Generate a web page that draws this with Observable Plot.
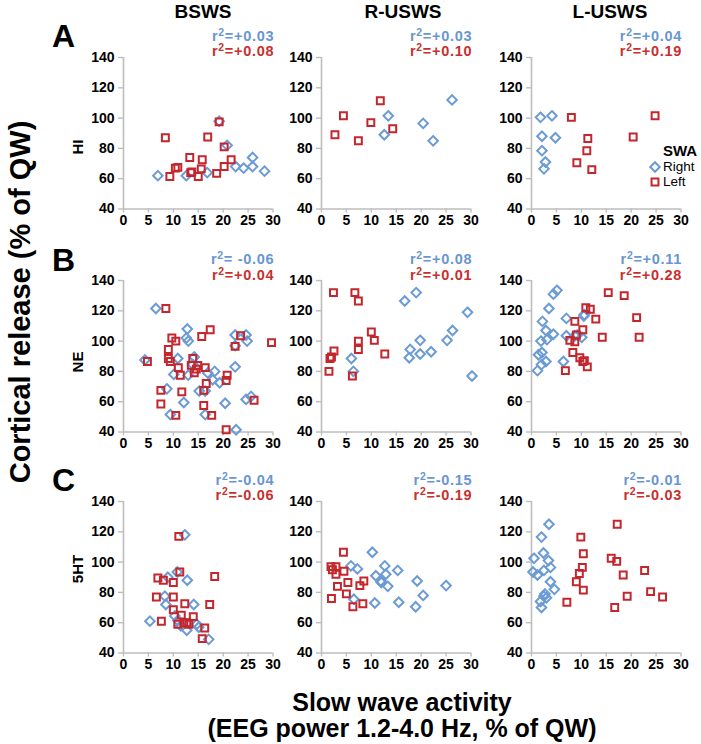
<!DOCTYPE html>
<html>
<head>
<meta charset="utf-8">
<script src="https://cdn.jsdelivr.net/npm/d3@7"></script>
<script src="https://cdn.jsdelivr.net/npm/@observablehq/plot@0.6"></script>
<style>
  body { margin: 0; background: #fff; }
  #fig { position: relative; width: 701px; height: 744px; overflow: hidden; background: #fff;
         font-family: "Liberation Sans", Arial, sans-serif; color: #000; }
  .lbl { position: absolute; white-space: nowrap; line-height: 1; font-weight: bold; }
  .lbl sup { font-size: 0.72em; vertical-align: 0.42em; line-height: 0; }
  .panel { position: absolute; }
</style>
</head>
<body>
<div id="fig"></div>
<script>
// ---------- data ----------
const panelLetters = ["A", "B", "C"];
const transmitters = ["HI", "NE", "5HT"];
const states = ["BSWS", "R-USWS", "L-USWS"];
const xTicks = [0, 5, 10, 15, 20, 25, 30];
const yTicks = [40, 60, 80, 100, 120, 140];
const legendTitle = "SWA";
const legendLabels = ["Right", "Left"];
const xTitle = ["Slow wave activity", "(EEG power 1.2-4.0 Hz, % of QW)"];
const yTitle = "Cortical release (% of QW)";

const r2Right = [["+0.03", "+0.03", "+0.04"], [" -0.06", "+0.08", "+0.11"], ["-0.04", "-0.15", "-0.01"]];
const r2Left  = [["+0.08", "+0.10", "+0.19"], ["+0.04", "+0.01", "+0.28"], ["-0.06", "-0.19", "-0.03"]];

// HI
const hiBswsRight = [[6.9,62],[12.6,62],[16.8,64],[19.2,98],[20.8,82],[22.5,68],[24.1,67],[25.9,68],[25.9,74],[28.3,65]];
const hiBswsLeft = [[8.4,87],[9.3,61.5],[10.4,67],[10.9,67.5],[13.3,74],[13.5,64],[13.7,64.5],[15,61.5],[15.8,72.5],[15.6,66.5],[16.9,87.5],[18.7,63.5],[19.2,97.5],[20.2,81],[20.2,68],[21.6,72.5]];
const hiRuswsRight = [[12.6,89],[13.4,101.5],[20.4,96.5],[22.4,85],[26.2,112]];
const hiRuswsLeft = [[2.7,89],[4.4,101.5],[7.4,85],[9.9,97],[11.8,111.5],[14.3,93]];
const hiLuswsRight = [[1.8,100.5],[4.1,101.5],[2.1,88],[4.8,87],[2.1,78.5],[2.8,71],[2.5,66.5]];
const hiLuswsLeft = [[8,100.5],[11.3,86.5],[11.1,78.5],[9.1,70.5],[12.1,66],[20.4,87.5],[24.8,101.5]];
// NE
const neBswsRight = [[6.5,121.5],[4.3,87.5],[8.7,68.5],[9.4,51.5],[10.1,78],[10.9,88.5],[12.1,59.5],[12.8,108],[12.6,102],[13,100],[13,77.5],[13.9,84.5],[14.2,89.5],[15.2,67],[16.4,51.5],[16.4,67],[16.9,79],[18.3,80],[17.9,74.5],[19.3,72.5],[20.4,59],[22.4,83],[22.4,104],[22.6,41.5],[22.4,97],[24.6,104],[24.8,100],[24.6,61.5],[25.6,63.5]];
const neBswsLeft = [[8.5,121.5],[4.8,86.5],[7.5,67.5],[7.5,58.5],[9,94.5],[9,88.5],[9.4,86.5],[9.7,102],[10.5,100],[10.5,51],[11,82.5],[11.4,77.5],[11.7,66.5],[13.6,84],[13.9,88.5],[14.2,79],[14.6,81.5],[14.9,84],[15.7,103],[16.1,67.5],[16.1,57.5],[16.4,82.5],[16.6,72],[17.4,107.5],[17.7,51],[20.8,77.5],[20.6,74],[20.6,41.5],[22.4,96.5],[23.5,103.5],[26.2,61],[29.7,99]];
const neRuswsRight = [[6,88.5],[6.4,80],[16.7,126.5],[19,132],[17.8,94.5],[17.6,89],[19.8,100.5],[19.8,91.5],[22,93],[25.2,100.5],[26.3,107],[29.3,119],[30.2,77]];
const neRuswsLeft = [[2.4,132],[1.5,80],[1.7,88.5],[2,89.5],[2.5,93.5],[6.7,132],[7.4,126.5],[7.4,100],[7.4,94.5],[6.2,77],[10,106],[10.6,100.5],[12.7,91.5]];
const neLuswsRight = [[1.2,80.5],[2,84.5],[1.4,91],[2.1,92.5],[2.9,86.5],[1.9,100],[2.2,113],[3.1,101],[2.9,107],[3.5,121.5],[4.4,104.5],[4.4,131],[5.1,133.5],[6.4,86.5],[7,115],[7,103.5],[8.7,103.5],[9.2,104],[10.1,102.5],[10.5,116.5],[10.6,117.5]];
const neLuswsLeft = [[6.8,80.5],[7.7,100.5],[8.7,113],[8.3,92.5],[8.7,99.5],[9,104],[9.7,89],[10.3,107.5],[10.3,86.5],[10.6,87],[10.9,122],[11.2,83],[11.8,121],[12.9,114.5],[14.2,102.5],[15.4,132],[18.6,130],[21.1,115.5],[21.6,102.5]];
// 5HT
const htBswsRight = [[5.3,61],[8.3,77.5],[8.5,72],[8.9,90],[10.8,93.5],[12.3,118],[12.8,88],[10.3,64.5],[10.9,61.5],[11.5,58],[12.7,55],[14.1,72],[14.7,59],[15.1,57],[17.1,49]];
const htBswsLeft = [[6.9,89.5],[6.6,77],[7.6,61],[8,88],[10,86.5],[10,77],[10,68.5],[10.9,59],[11.1,117],[11.3,93.5],[11.6,65],[12.1,60],[12.3,72.5],[12.7,60],[13.1,59],[14,64],[16.3,56.5],[15.8,49.5],[17.3,72],[18.3,90.5]];
const htRuswsRight = [[5.9,97.5],[7.2,95.5],[6.5,75.5],[10.2,106.5],[10.9,91],[11.9,87.5],[12,86.5],[12.7,97.5],[12.9,92],[13.3,84],[15.3,94.5],[15.5,73.5],[10.7,73],[19.2,87.5],[20.4,78],[18.9,70.5],[25,84.5]];
const htRuswsLeft = [[1.9,97],[2.2,95],[2.9,97],[2.9,92],[3.2,84],[2,76],[4.4,106.5],[4.5,94],[5,79],[5.3,86.5],[6.3,70.5],[7.7,84.5],[8.5,87.5],[8.3,72.5]];
const htLuswsRight = [[0.5,102.5],[0.3,93.5],[1.2,91.5],[2,116.5],[2.4,106],[2.5,94.5],[3.4,101],[3.5,125],[3.8,96.5],[3.8,87],[4.6,82],[1.8,74],[2,70],[2.5,77.5],[2.7,79],[3,76.5]];
const htLuswsLeft = [[7.1,73.5],[9,87],[9.6,92.5],[9.9,116.5],[10.4,105.5],[10.2,96.5],[10.4,81.5],[16,102.5],[17.2,125],[17.1,100.5],[18.4,91.5],[16.7,70],[19.2,77.5],[22.7,94.5],[23.9,80.5],[26.3,77]];

const rightSeries = [[hiBswsRight, hiRuswsRight, hiLuswsRight], [neBswsRight, neRuswsRight, neLuswsRight], [htBswsRight, htRuswsRight, htLuswsRight]];
const leftSeries  = [[hiBswsLeft, hiRuswsLeft, hiLuswsLeft], [neBswsLeft, neRuswsLeft, neLuswsLeft], [htBswsLeft, htRuswsLeft, htLuswsLeft]];

// ---------- style / layout ----------
const FONT = "'Liberation Sans', Arial, sans-serif";
const BLUE = "#6b9bd5", RED = "#c3262d";
const BLUE_T = "#6996d0", RED_T = "#c8302f";
const GRAY = "#bdbdbd";
const colX = [122.7, 320.7, 530.5];
const rowTop = [56.5, 280, 500.7];
const PW = 149.5, PH = 151.5;
const ML = 45, MR = 25, MT = 32, MB = 28;

const fig = document.getElementById("fig");

function addLabel(html, cx, cy, size, extra = {}) {
  const d = document.createElement("div");
  d.className = "lbl";
  d.innerHTML = html;
  d.style.fontSize = size + "px";
  d.style.left = cx + "px";
  d.style.top = cy + "px";
  d.style.transform = (extra.anchor === "end" ? "translate(-100%,-50%)" :
                       extra.anchor === "start" ? "translate(0,-50%)" : "translate(-50%,-50%)") +
                      (extra.rotate ? " rotate(-90deg)" : "");
  if (extra.color) d.style.color = extra.color;
  if (extra.weight) d.style.fontWeight = extra.weight;
  if (extra.spacing) d.style.letterSpacing = extra.spacing + "px";
  fig.appendChild(d);
  return d;
}

for (let r = 0; r < 3; r++) {
  for (let c = 0; c < 3; c++) {
    const svg = Plot.plot({
      width: ML + PW + MR,
      height: MT + PH + MB,
      marginLeft: ML, marginRight: MR, marginTop: MT, marginBottom: MB,
      x: {domain: [0, 30]},
      y: {domain: [40, 140]},
      style: {fontFamily: FONT, background: "none", overflow: "visible", color: "#000"},
      marks: [
        Plot.axisY({ticks: yTicks, tickSize: 5, tickPadding: 4, stroke: GRAY, strokeWidth: 1.4, fill: "#000",
                    fontSize: 14, fontWeight: "bold", label: null}),
        Plot.axisX({ticks: xTicks, tickSize: 4, tickPadding: 2, stroke: GRAY, strokeWidth: 1.4, fill: "#000",
                    fontSize: 14, fontWeight: "bold", label: null}),
        Plot.ruleX([0], {stroke: GRAY, strokeWidth: 1.6}),
        Plot.ruleY([40], {stroke: GRAY, strokeWidth: 1.6}),
        Plot.dot(rightSeries[r][c], {x: d => d[0], y: d => d[1], symbol: "diamond2", r: 4.3,
                                     stroke: BLUE, strokeWidth: 2, fill: "none"}),
        Plot.dot(leftSeries[r][c], {x: d => d[0], y: d => d[1], symbol: "square2", r: 4.4,
                                    stroke: RED, strokeWidth: 2, fill: "none"})
      ]
    });
    // make sure the tick labels are bold 14px
    svg.querySelectorAll('g[aria-label$="tick label"]').forEach(g => {
      g.style.fontSize = "14px"; g.style.fontWeight = "bold";
      g.querySelectorAll("text").forEach(t => { t.style.fontSize = "14px"; t.style.fontWeight = "bold"; t.style.fill = "#000"; });
    });
    svg.classList.add("panel");
    svg.style.left = (colX[c] - ML) + "px";
    svg.style.top = (rowTop[r] - MT) + "px";
    fig.appendChild(svg);

    // r² annotations, right-aligned to the end of the x axis
    const rx = colX[c] + PW + 2;
    addLabel("r<sup>2</sup>=" + r2Right[r][c].replace(" ", "&nbsp;"), rx, rowTop[r] - 21, 14.5,
             {anchor: "end", color: BLUE_T, spacing: 0.7});
    addLabel("r<sup>2</sup>=" + r2Left[r][c], rx, rowTop[r] - 5.5, 14.5,
             {anchor: "end", color: RED_T, spacing: 0.7});
  }
}

// column titles
const colTitleX = [203, 403, 610];
states.forEach((s, i) => addLabel(s, colTitleX[i], 10.5, 19));
// panel letters
const letterY = [35.5, 259.5, 480];
panelLetters.forEach((s, i) => addLabel(s, 63.5, letterY[i], 32));
// row (transmitter) labels
const rowLabelY = [147, 362, 569];
transmitters.forEach((s, i) => addLabel(s, 77, rowLabelY[i], 15, {rotate: true}));
// axis titles
addLabel(yTitle, 20, 302, 29, {rotate: true});
addLabel(xTitle[0], 402, 702, 25);
addLabel(xTitle[1], 402, 728, 25);

// legend
addLabel(legendTitle, 680, 150, 15);
const legendY = [166.5, 181.5];
legendLabels.forEach((s, i) => {
  const ns = "http://www.w3.org/2000/svg";
  const sv = document.createElementNS(ns, "svg");
  sv.setAttribute("width", 14); sv.setAttribute("height", 14);
  sv.style.position = "absolute";
  sv.style.left = (655 - 7) + "px";
  sv.style.top = (legendY[i] - 7) + "px";
  const p = document.createElementNS(ns, "path");
  p.setAttribute("d", i === 0 ? d3.symbol(d3.symbolDiamond2, Math.PI * 4.3 * 4.3)() : d3.symbol(d3.symbolSquare2, Math.PI * 4.4 * 4.4)());
  p.setAttribute("transform", "translate(7,7)");
  p.setAttribute("fill", "none");
  p.setAttribute("stroke", i === 0 ? BLUE : RED);
  p.setAttribute("stroke-width", 2);
  sv.appendChild(p);
  fig.appendChild(sv);
  addLabel(s, 663, legendY[i], 13.5, {anchor: "start", weight: "normal"});
});
</script>
</body>
</html>
